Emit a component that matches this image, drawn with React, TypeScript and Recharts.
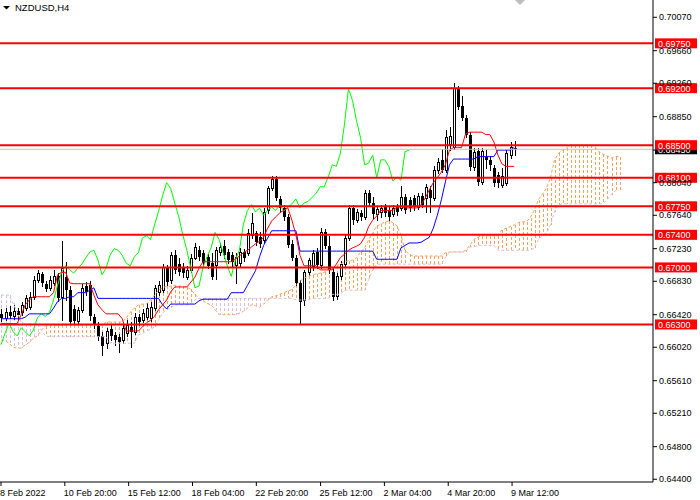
import React from 'react';
import { ComposedChart, Bar, Line, XAxis, YAxis, ReferenceLine } from 'recharts';

// NZDUSD H4 candles
const open = [
  0.6643, 0.6638, 0.6645, 0.6640, 0.6646, 0.6645, 0.6650, 0.6651, 0.6664, 0.6685,
  0.6692, 0.6680, 0.6675, 0.6681, 0.6689, 0.6664, 0.6688, 0.6672, 0.6649, 0.6634,
  0.6648, 0.6677, 0.6678, 0.6639, 0.6628, 0.6616, 0.6607, 0.6624, 0.6617, 0.6615,
  0.6611, 0.6619, 0.6627, 0.6621, 0.6639, 0.6635, 0.6639, 0.6638, 0.6650, 0.6670,
  0.6672, 0.6699, 0.6685, 0.6715, 0.6704, 0.6700, 0.6688, 0.6697, 0.6712, 0.6721,
  0.6718, 0.6713, 0.6705, 0.6703, 0.6719, 0.6726, 0.6719, 0.6715, 0.6703, 0.6705,
  0.6719, 0.6718, 0.6740, 0.6742, 0.6737, 0.6734, 0.6770, 0.6797, 0.6809, 0.6784,
  0.6773, 0.6762, 0.6729, 0.6712, 0.6681, 0.6660, 0.6694, 0.6702, 0.6719, 0.6703,
  0.6743, 0.6726, 0.6694, 0.6665, 0.6689, 0.6704, 0.6736, 0.6773, 0.6758, 0.6767,
  0.6762, 0.6791, 0.6779, 0.6766, 0.6768, 0.6774, 0.6770, 0.6766, 0.6774, 0.6773,
  0.6786, 0.6783, 0.6785, 0.6774, 0.6788, 0.6785, 0.6795, 0.6785, 0.6820, 0.6832,
  0.6820, 0.6851, 0.6848, 0.6919, 0.6898, 0.6883, 0.6863, 0.6823, 0.6843, 0.6805,
  0.6836, 0.6832, 0.6822, 0.6813, 0.6801, 0.6804, 0.6838, 0.6847,
];
const high = [
  0.6649, 0.6650, 0.6653, 0.6654, 0.6650, 0.6658, 0.6666, 0.6670, 0.6689, 0.6697,
  0.6694, 0.6683, 0.6689, 0.6697, 0.6693, 0.6732, 0.6707, 0.6677, 0.6654, 0.6651,
  0.6680, 0.6682, 0.6683, 0.6643, 0.6633, 0.6621, 0.6626, 0.6629, 0.6621, 0.6618,
  0.6631, 0.6635, 0.6633, 0.6644, 0.6643, 0.6649, 0.6656, 0.6658, 0.6678, 0.6683,
  0.6704, 0.6703, 0.6719, 0.6721, 0.6712, 0.6705, 0.6702, 0.6716, 0.6730, 0.6726,
  0.6721, 0.6716, 0.6718, 0.6725, 0.6730, 0.6734, 0.6723, 0.6719, 0.6718, 0.6724,
  0.6723, 0.6747, 0.6767, 0.6745, 0.6743, 0.6773, 0.6800, 0.6812, 0.6812, 0.6788,
  0.6777, 0.6766, 0.6734, 0.6715, 0.6685, 0.6697, 0.6712, 0.6721, 0.6724, 0.6748,
  0.6747, 0.6739, 0.6699, 0.6693, 0.6708, 0.6740, 0.6777, 0.6777, 0.6772, 0.6770,
  0.6795, 0.6795, 0.6786, 0.6775, 0.6777, 0.6778, 0.6774, 0.6777, 0.6778, 0.6800,
  0.6790, 0.6786, 0.6789, 0.6791, 0.6791, 0.6802, 0.6800, 0.6824, 0.6834, 0.6845,
  0.6869, 0.6872, 0.6926, 0.6923, 0.6910, 0.6887, 0.6866, 0.6847, 0.6847, 0.6847,
  0.6844, 0.6837, 0.6826, 0.6817, 0.6822, 0.6844, 0.6854, 0.6855,
];
const low = [
  0.6634, 0.6635, 0.6638, 0.6637, 0.6635, 0.6642, 0.6648, 0.6649, 0.6661, 0.6682,
  0.6677, 0.6671, 0.6672, 0.6678, 0.6659, 0.6635, 0.6660, 0.6631, 0.6631, 0.6632,
  0.6645, 0.6666, 0.6635, 0.6626, 0.6611, 0.6592, 0.6601, 0.6611, 0.6605, 0.6596,
  0.6607, 0.6616, 0.6602, 0.6618, 0.6629, 0.6633, 0.6637, 0.6634, 0.6648, 0.6666,
  0.6670, 0.6678, 0.6681, 0.6693, 0.6691, 0.6688, 0.6686, 0.6694, 0.6710, 0.6709,
  0.6702, 0.6699, 0.6686, 0.6686, 0.6715, 0.6712, 0.6705, 0.6702, 0.6681, 0.6700,
  0.6708, 0.6715, 0.6736, 0.6727, 0.6725, 0.6730, 0.6767, 0.6795, 0.6783, 0.6768,
  0.6758, 0.6725, 0.6709, 0.6678, 0.6632, 0.6654, 0.6691, 0.6697, 0.6699, 0.6699,
  0.6724, 0.6693, 0.6660, 0.6661, 0.6686, 0.6702, 0.6734, 0.6753, 0.6756, 0.6758,
  0.6759, 0.6775, 0.6761, 0.6758, 0.6762, 0.6763, 0.6758, 0.6763, 0.6764, 0.6770,
  0.6767, 0.6769, 0.6770, 0.6772, 0.6774, 0.6768, 0.6768, 0.6783, 0.6816, 0.6817,
  0.6817, 0.6844, 0.6845, 0.6894, 0.6881, 0.6860, 0.6820, 0.6820, 0.6801, 0.6802,
  0.6822, 0.6820, 0.6800, 0.6799, 0.6799, 0.6801, 0.6834, 0.6838,
];
const close = [
  0.6638, 0.6645, 0.6640, 0.6646, 0.6642, 0.6654, 0.6662, 0.6664, 0.6685, 0.6693,
  0.6681, 0.6673, 0.6685, 0.6689, 0.6662, 0.6699, 0.6672, 0.6633, 0.6634, 0.6648,
  0.6675, 0.6670, 0.6640, 0.6631, 0.6615, 0.6604, 0.6622, 0.6616, 0.6611, 0.6608,
  0.6626, 0.6629, 0.6621, 0.6639, 0.6633, 0.6644, 0.6650, 0.6651, 0.6675, 0.6678,
  0.6700, 0.6682, 0.6715, 0.6697, 0.6694, 0.6693, 0.6697, 0.6712, 0.6725, 0.6713,
  0.6705, 0.6702, 0.6688, 0.6721, 0.6725, 0.6715, 0.6709, 0.6707, 0.6713, 0.6719,
  0.6712, 0.6742, 0.6755, 0.6731, 0.6729, 0.6768, 0.6797, 0.6809, 0.6785, 0.6773,
  0.6762, 0.6727, 0.6712, 0.6681, 0.6658, 0.6694, 0.6709, 0.6718, 0.6703, 0.6743,
  0.6726, 0.6697, 0.6664, 0.6689, 0.6704, 0.6736, 0.6773, 0.6758, 0.6768, 0.6762,
  0.6791, 0.6779, 0.6766, 0.6772, 0.6773, 0.6767, 0.6762, 0.6773, 0.6768, 0.6786,
  0.6770, 0.6773, 0.6774, 0.6788, 0.6777, 0.6799, 0.6785, 0.6820, 0.6829, 0.6820,
  0.6860, 0.6861, 0.6920, 0.6897, 0.6883, 0.6863, 0.6823, 0.6842, 0.6805, 0.6843,
  0.6832, 0.6826, 0.6804, 0.6804, 0.6812, 0.6840, 0.6848, 0.6845,
];

// Ichimoku lines
const tenkan = [
  0.6631, 0.6631, 0.6631, 0.6631, 0.6631, 0.6642, 0.6654, 0.6660, 0.6664, 0.6664,
  0.6664, 0.6664, 0.6664, 0.6669, 0.6691, 0.6694, 0.6694, 0.6681, 0.6680, 0.6680,
  0.6680, 0.6680, 0.6680, 0.6666, 0.6654, 0.6648, 0.6643, 0.6643, 0.6643, 0.6643,
  0.6637, 0.6622, 0.6622, 0.6622, 0.6622, 0.6627, 0.6632, 0.6635, 0.6640, 0.6648,
  0.6654, 0.6660, 0.6670, 0.6676, 0.6676, 0.6676, 0.6676, 0.6682, 0.6688, 0.6699,
  0.6707, 0.6707, 0.6707, 0.6707, 0.6707, 0.6707, 0.6707, 0.6707, 0.6710, 0.6714,
  0.6718, 0.6721, 0.6725, 0.6729, 0.6732, 0.6737, 0.6748, 0.6757, 0.6762, 0.6767,
  0.6770, 0.6773, 0.6758, 0.6740, 0.6715, 0.6702, 0.6702, 0.6702, 0.6702, 0.6697,
  0.6697, 0.6697, 0.6697, 0.6704, 0.6712, 0.6716, 0.6721, 0.6724, 0.6726, 0.6729,
  0.6737, 0.6750, 0.6758, 0.6763, 0.6770, 0.6770, 0.6770, 0.6770, 0.6773, 0.6775,
  0.6773, 0.6773, 0.6773, 0.6773, 0.6777, 0.6785, 0.6795, 0.6804, 0.6810, 0.6817,
  0.6826, 0.6844, 0.6847, 0.6847, 0.6847, 0.6864, 0.6866, 0.6866, 0.6866, 0.6866,
  0.6863, 0.6863, 0.6854, 0.6838, 0.6827, 0.6824, 0.6824, 0.6824,
];
const kijun = [
  0.6637, 0.6637, 0.6637, 0.6637, 0.6637, 0.6637, 0.6639, 0.6643, 0.6643, 0.6643,
  0.6643, 0.6643, 0.6643, 0.6650, 0.6658, 0.6662, 0.6662, 0.6664, 0.6664, 0.6669,
  0.6669, 0.6669, 0.6672, 0.6675, 0.6662, 0.6662, 0.6662, 0.6662, 0.6662, 0.6662,
  0.6662, 0.6662, 0.6662, 0.6662, 0.6662, 0.6662, 0.6662, 0.6662, 0.6662, 0.6662,
  0.6654, 0.6649, 0.6655, 0.6655, 0.6655, 0.6655, 0.6655, 0.6655, 0.6655, 0.6659,
  0.6661, 0.6661, 0.6661, 0.6661, 0.6661, 0.6661, 0.6661, 0.6669, 0.6669, 0.6669,
  0.6669, 0.6678, 0.6687, 0.6696, 0.6713, 0.6727, 0.6736, 0.6745, 0.6745, 0.6745,
  0.6745, 0.6745, 0.6745, 0.6745, 0.6720, 0.6720, 0.6720, 0.6720, 0.6720, 0.6720,
  0.6720, 0.6720, 0.6720, 0.6720, 0.6720, 0.6720, 0.6720, 0.6720, 0.6720, 0.6720,
  0.6720, 0.6720, 0.6720, 0.6710, 0.6710, 0.6710, 0.6710, 0.6710, 0.6710, 0.6724,
  0.6727, 0.6730, 0.6730, 0.6730, 0.6731, 0.6734, 0.6737, 0.6748, 0.6764, 0.6783,
  0.6805, 0.6826, 0.6833, 0.6833, 0.6833, 0.6833, 0.6833, 0.6833, 0.6836, 0.6836,
  0.6836, 0.6836, 0.6836, 0.6844, 0.6844, 0.6844, 0.6844, 0.6847,
];
const chikou = [
  0.6605, 0.6619, 0.6632, 0.6621, 0.6616, 0.6626, 0.6621, 0.6616, 0.6623, 0.6638,
  0.6643, 0.6640, 0.6645, 0.6660, 0.6678, 0.6694, 0.6702, 0.6697, 0.6693, 0.6699,
  0.6704, 0.6712, 0.6719, 0.6721, 0.6709, 0.6691, 0.6699, 0.6715, 0.6723, 0.6721,
  0.6715, 0.6705, 0.6702, 0.6713, 0.6718, 0.6736, 0.6739, 0.6734, 0.6752, 0.6769,
  0.6788, 0.6804, 0.6797, 0.6779, 0.6762, 0.6740, 0.6721, 0.6699, 0.6675, 0.6677,
  0.6700, 0.6713, 0.6724, 0.6743, 0.6734, 0.6718, 0.6702, 0.6689, 0.6709, 0.6721,
  0.6753, 0.6770, 0.6777, 0.6768, 0.6773, 0.6764, 0.6770, 0.6774, 0.6770, 0.6777,
  0.6769, 0.6774, 0.6778, 0.6784, 0.6773, 0.6779, 0.6781, 0.6786, 0.6791, 0.6799,
  0.6799, 0.6811, 0.6826, 0.6824, 0.6840, 0.6875, 0.6919, 0.6905, 0.6880, 0.6859,
  0.6826, 0.6828, 0.6838, 0.6810, 0.6832, 0.6832, 0.6824, 0.6806, 0.6811, 0.6807,
  0.6842, 0.6844,
];
const spanA = [
  0.6611, 0.6610, 0.6607, 0.6602, 0.6601, 0.6601, 0.6605, 0.6608, 0.6613, 0.6616,
  0.6623, 0.6628, 0.6629, 0.6629, 0.6629, 0.6629, 0.6629, 0.6629, 0.6629, 0.6629,
  0.6629, 0.6629, 0.6629, 0.6629, 0.6629, 0.6629, 0.6633, 0.6633, 0.6633, 0.6633,
  0.6633, 0.6638, 0.6645, 0.6650, 0.6654, 0.6655, 0.6655, 0.6660, 0.6666, 0.6672,
  0.6675, 0.6677, 0.6677, 0.6678, 0.6677, 0.6677, 0.6676, 0.6673, 0.6667, 0.6662,
  0.6659, 0.6656, 0.6654, 0.6648, 0.6642, 0.6642, 0.6642, 0.6642, 0.6642, 0.6644,
  0.6646, 0.6650, 0.6654, 0.6653, 0.6651, 0.6655, 0.6660, 0.6664, 0.6665, 0.6667,
  0.6669, 0.6671, 0.6673, 0.6678, 0.6683, 0.6687, 0.6689, 0.6691, 0.6692, 0.6693,
  0.6694, 0.6697, 0.6699, 0.6702, 0.6704, 0.6707, 0.6708, 0.6709, 0.6712, 0.6719,
  0.6724, 0.6734, 0.6742, 0.6751, 0.6753, 0.6756, 0.6757, 0.6755, 0.6751, 0.6740,
  0.6721, 0.6716, 0.6714, 0.6714, 0.6714, 0.6714, 0.6714, 0.6714, 0.6714, 0.6714,
  0.6718, 0.6719, 0.6719, 0.6719, 0.6719, 0.6721, 0.6727, 0.6734, 0.6737, 0.6739,
  0.6739, 0.6739, 0.6739, 0.6739, 0.6746, 0.6748, 0.6750, 0.6752, 0.6755, 0.6756,
  0.6756, 0.6761, 0.6770, 0.6783, 0.6790, 0.6797, 0.6810, 0.6832, 0.6840, 0.6844,
  0.6847, 0.6850, 0.6850, 0.6850, 0.6850, 0.6850, 0.6850, 0.6848, 0.6842, 0.6839,
  0.6837, 0.6834, 0.6836, 0.6836,
];
const spanB = [
  0.6666, 0.6666, 0.6666, 0.6656, 0.6645, 0.6633, 0.6631, 0.6631, 0.6631, 0.6631,
  0.6623, 0.6616, 0.6615, 0.6615, 0.6615, 0.6615, 0.6615, 0.6615, 0.6615, 0.6615,
  0.6615, 0.6615, 0.6615, 0.6615, 0.6615, 0.6615, 0.6615, 0.6607, 0.6607, 0.6607,
  0.6607, 0.6607, 0.6607, 0.6607, 0.6617, 0.6619, 0.6622, 0.6624, 0.6627, 0.6635,
  0.6644, 0.6648, 0.6650, 0.6654, 0.6654, 0.6654, 0.6654, 0.6656, 0.6660, 0.6662,
  0.6662, 0.6662, 0.6662, 0.6662, 0.6662, 0.6662, 0.6662, 0.6662, 0.6662, 0.6662,
  0.6662, 0.6662, 0.6662, 0.6662, 0.6662, 0.6662, 0.6662, 0.6662, 0.6662, 0.6662,
  0.6662, 0.6662, 0.6662, 0.6660, 0.6660, 0.6660, 0.6660, 0.6662, 0.6662, 0.6662,
  0.6662, 0.6662, 0.6667, 0.6667, 0.6667, 0.6672, 0.6672, 0.6672, 0.6672, 0.6672,
  0.6672, 0.6685, 0.6697, 0.6704, 0.6704, 0.6704, 0.6704, 0.6704, 0.6704, 0.6704,
  0.6704, 0.6704, 0.6704, 0.6704, 0.6704, 0.6704, 0.6704, 0.6704, 0.6704, 0.6704,
  0.6712, 0.6719, 0.6719, 0.6719, 0.6719, 0.6719, 0.6725, 0.6725, 0.6727, 0.6727,
  0.6727, 0.6727, 0.6727, 0.6721, 0.6721, 0.6721, 0.6721, 0.6721, 0.6721, 0.6721,
  0.6721, 0.6721, 0.6724, 0.6734, 0.6739, 0.6742, 0.6752, 0.6768, 0.6777, 0.6778,
  0.6778, 0.6778, 0.6778, 0.6778, 0.6778, 0.6778, 0.6778, 0.6778, 0.6778, 0.6778,
  0.6783, 0.6789, 0.6794, 0.6794,
];

const levels = [0.6975, 0.692, 0.685, 0.681, 0.6775, 0.674, 0.67, 0.663];
const bidPrice = 0.6845;
const priceTicks = [
  0.7007, 0.6966, 0.6926, 0.6885, 0.6844, 0.6804, 0.6764, 0.6723,
  0.6683, 0.6642, 0.6602, 0.6561, 0.6521, 0.648, 0.644,
];
// the bid label covers this tick completely
const hiddenTick = 0.6844;
const timeTicks = [0, 15.8, 31.6, 47.4, 63.2, 79.1, 94.9, 110.7, 126.5];
const timeLabels = [
  '8 Feb 2022', '10 Feb 20:00', '15 Feb 12:00', '18 Feb 04:00', '22 Feb 20:00',
  '25 Feb 12:00', '2 Mar 04:00', '4 Mar 20:00', '9 Mar 12:00',
];

const rows = spanA.map((a, i) => ({
  i,
  o: open[i] ?? null,
  h: high[i] ?? null,
  l: low[i] ?? null,
  c: close[i] ?? null,
  tenkan: tenkan[i] ?? null,
  kijun: kijun[i] ?? null,
  chikou: chikou[i] ?? null,
  a,
  b: spanB[i],
}));

const FONT = '"Liberation Sans", Arial, sans-serif';
const SAND = '#f4a460';
const THISTLE = '#d8bfd8';

const extent = (d: any) => {
  const vals = [d.a, d.b];
  if (d.h != null) vals.push(d.h, d.l);
  return [Math.min(...vals), Math.max(...vals)];
};

// one shape per bar: cloud hatch + candle, using the bar's own pixel range
const BarMark = (props: any) => {
  const { x, y, width, height, payload } = props;
  if (payload == null || !height) return null;
  const [lo, hi] = extent(payload);
  const py = (p: number) => y + ((hi - p) / (hi - lo)) * height;
  const cx = Math.round(x + width / 2);
  const top = Math.round(py(Math.max(payload.a, payload.b)));
  const bot = Math.round(py(Math.min(payload.a, payload.b)));
  const hatch = payload.a >= payload.b ? SAND : THISTLE;
  const dashes = [];
  for (let yy = top; yy < bot; yy += 5) {
    dashes.push(<rect key={yy} x={cx} y={yy} width={1} height={Math.min(3, bot - yy)} fill={hatch} />);
  }
  let candle = null;
  if (payload.h != null) {
    const bTop = Math.round(py(Math.max(payload.o, payload.c)));
    const bBot = Math.round(py(Math.min(payload.o, payload.c)));
    const bull = payload.c >= payload.o;
    const hy = Math.round(py(payload.h));
    const ly = Math.round(py(payload.l));
    candle = (
      <g>
        <rect x={cx} y={hy} width={1} height={ly - hy + 1} fill="#000" />
        {bull ? (
          <rect x={cx - 0.5} y={bTop + 0.5} width={2} height={Math.max(bBot - bTop, 1)} fill="#fff" stroke="#000" />
        ) : (
          <rect x={cx - 1} y={bTop} width={3} height={Math.max(bBot - bTop, 1)} fill="#000" />
        )}
      </g>
    );
  }
  return (
    <g shapeRendering="crispEdges">
      {dashes}
      {candle}
    </g>
  );
};

const TimeTick = (props: any) => {
  const { x, y, payload } = props;
  const label = timeLabels[timeTicks.indexOf(payload.value)];
  return (
    <text x={x - 1} y={y} dy={8} fontSize={9} fontFamily={FONT} fill="#000" textAnchor="start">
      {label}
    </text>
  );
};

const PriceTick = (props: any) => {
  const { x, y, payload } = props;
  if (payload.value === hiddenTick) return null;
  return (
    <text x={x} y={y} dy={3} fontSize={9} fontFamily={FONT} fill="#000" textAnchor="start">
      {payload.value.toFixed(5)}
    </text>
  );
};

const Tag = (props: any) => {
  const { viewBox, text, bg } = props;
  if (!viewBox) return null;
  const right = viewBox.x + viewBox.width;
  const cy = viewBox.y;
  return (
    <g>
      <rect x={right + 2} y={cy - 5} width={42} height={10} fill={bg} />
      <text x={right + 5} y={cy + 3.5} fontSize={9} fontFamily={FONT} fill="#fff">
        {text}
      </text>
    </g>
  );
};

const lineProps = {
  type: 'linear' as const,
  dot: false,
  activeDot: false,
  isAnimationActive: false,
  strokeWidth: 1,
};

export default function App() {
  return (
    <div style={{ position: 'absolute', left: 0, top: 0, width: 700, height: 500, background: '#fff' }}>
      <ComposedChart width={700} height={500} data={rows} margin={{ top: 0, right: 0, bottom: 0, left: 0 }}>
        <XAxis
          dataKey="i"
          type="number"
          domain={[-0.2475, 161.386]}
          allowDataOverflow
          ticks={timeTicks}
          interval={0}
          tick={<TimeTick />}
          tickSize={4}
          tickLine={{ stroke: '#000' }}
          axisLine={{ stroke: '#000' }}
          height={18}
        />
        <YAxis
          orientation="right"
          type="number"
          domain={[0.643664, 0.70282]}
          allowDataOverflow
          ticks={priceTicks}
          interval={0}
          tick={<PriceTick />}
          tickSize={4}
          tickLine={{ stroke: '#000' }}
          axisLine={{ stroke: '#000' }}
          width={47}
        />
        <Bar dataKey={extent} barSize={3} shape={<BarMark />} isAnimationActive={false} />
        <Line {...lineProps} dataKey="a" stroke={SAND} strokeDasharray="3 2" />
        <Line {...lineProps} dataKey="b" stroke={THISTLE} strokeDasharray="3 2" />
        <Line {...lineProps} dataKey="chikou" stroke="#00ff00" />
        <Line {...lineProps} dataKey="kijun" stroke="#0000ff" />
        <Line {...lineProps} dataKey="tenkan" stroke="#ff0000" />
        <ReferenceLine y={bidPrice} stroke="#c0c0c0" label={<Tag text="0.68450" bg="#000" />} />
        {levels.map((lv) => (
          <ReferenceLine key={lv} y={lv} stroke="#ff0000" strokeWidth={2} label={<Tag text={lv.toFixed(5)} bg="#ff0000" />} />
        ))}
      </ComposedChart>
      <svg width={700} height={14} style={{ position: 'absolute', left: 0, top: 0 }}>
        <polygon points="3,6 10,6 6.5,9.5" fill="#000" />
        <text x={15} y={11} fontSize={9.5} fontFamily={FONT} fill="#000">NZDUSD,H4</text>
        <polygon points="515,0 525,0 520,5" fill="#bdbdbd" />
      </svg>
    </div>
  );
}
